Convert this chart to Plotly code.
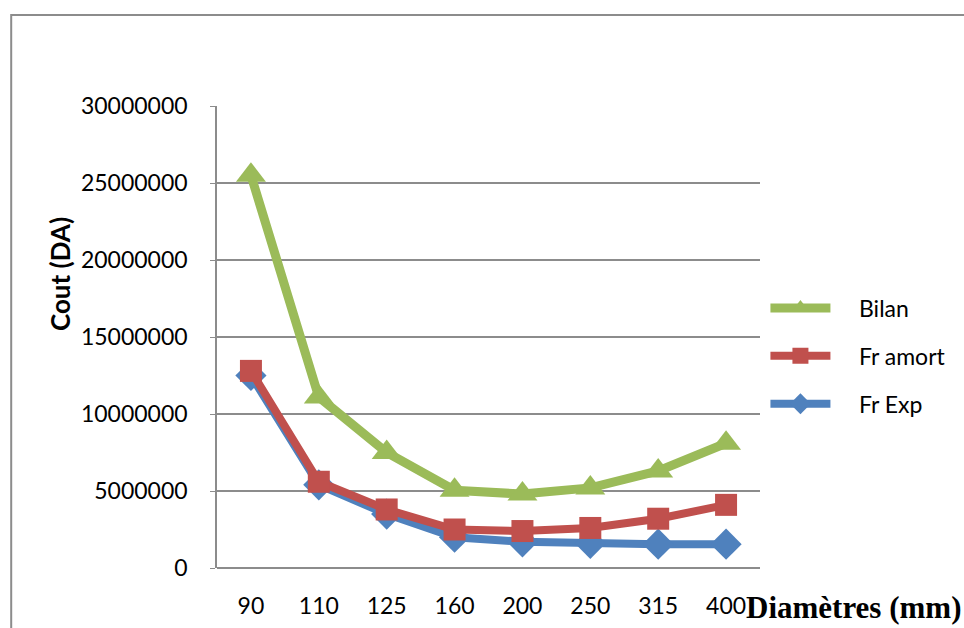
import plotly.graph_objects as go

# Diameters (mm) as categories
diametres = ["90", "110", "125", "160", "200", "250", "315", "400"]

# Costs (DA)
fr_exp = [12500000, 5400000, 3500000, 2000000, 1700000, 1600000, 1550000, 1550000]
fr_amort = [12800000, 5600000, 3800000, 2500000, 2400000, 2600000, 3200000, 4100000]
bilan = [25500000, 11100000, 7500000, 5050000, 4800000, 5200000, 6300000, 8100000]

y_ticks = [0, 5000000, 10000000, 15000000, 20000000, 25000000, 30000000]

BLUE = "#4F81BD"
RED = "#C0504D"
GREEN = "#9BBB59"
GRID = "#8C8C8C"
FONT = "Lato, Open Sans, sans-serif"
PAD = "\u00a0\u00a0\u00a0\u00a0"

fig = go.Figure()

fig.add_trace(go.Scatter(
    x=diametres, y=fr_exp, name=PAD + "Fr Exp", mode="lines+markers",
    legendgroup="exp", legendrank=3,
    line=dict(color=BLUE, width=8),
    marker=dict(symbol="diamond", size=24, color=BLUE),
))
fig.add_trace(go.Scatter(
    x=diametres, y=fr_amort, name=PAD + "Fr amort", mode="lines+markers",
    legendgroup="amort", legendrank=2,
    line=dict(color=RED, width=8),
    marker=dict(symbol="square", size=22, color=RED),
))
fig.add_trace(go.Scatter(
    x=diametres, y=bilan, name=PAD + "Bilan", mode="lines+markers",
    legendgroup="bilan", legendrank=1,
    line=dict(color=GREEN, width=9),
    marker=dict(symbol="triangle-up", size=26, color=GREEN),
))

# Outer chart frame
fig.add_shape(type="rect", xref="paper", yref="paper",
              x0=-0.379, x1=1.40, y0=-0.2, y1=1.197,
              line=dict(color="#8C8C8C", width=2), fillcolor="rgba(0,0,0,0)",
              layer="below")

fig.add_annotation(text="<b>Cout (DA)</b>", xref="paper", yref="paper",
                   x=(60 - 217) / 543, y=(568 - 274) / 462,
                   textangle=-90, showarrow=False,
                   font=dict(family=FONT, size=26, color="black"),
                   xanchor="center", yanchor="middle")
fig.add_annotation(text="<b>Diamètres (mm)</b>", xref="paper", yref="paper",
                   x=(744 - 217) / 543, y=(568 - 607) / 462,
                   showarrow=False,
                   font=dict(family="Liberation Serif, Times New Roman, serif",
                             size=31, color="black"),
                   xanchor="left", yanchor="middle")

fig.update_layout(
    width=964, height=628,
    margin=dict(l=217, r=204, t=106, b=60),
    paper_bgcolor="white", plot_bgcolor="white",
    font=dict(family=FONT, size=23, color="black"),
    showlegend=True,
    legend=dict(
        x=1.01, y=(568 - 356) / 462, xanchor="left", yanchor="middle",
        traceorder="grouped",
        font=dict(family=FONT, size=23, color="black"),
        itemwidth=60, tracegroupgap=15,
        bgcolor="rgba(0,0,0,0)",
    ),
    xaxis=dict(
        type="category", showgrid=False, showline=False, ticks="",
        tickfont=dict(family=FONT, size=23), ticklabelstandoff=22,
        range=[-0.5, 7.5], zeroline=False, automargin=False,
    ),
    yaxis=dict(
        range=[0, 30000000], tickvals=y_ticks,
        ticktext=[str(v) for v in y_ticks],
        showgrid=True, gridcolor=GRID, gridwidth=1.5,
        showline=True, linecolor=GRID, linewidth=1.5,
        ticks="outside", ticklen=5, tickcolor=GRID,
        tickfont=dict(family=FONT, size=23), ticklabelstandoff=18,
        zeroline=True, zerolinecolor=GRID, zerolinewidth=1.5,
        automargin=False,
    ),
)

fig.write_html("out.html")
